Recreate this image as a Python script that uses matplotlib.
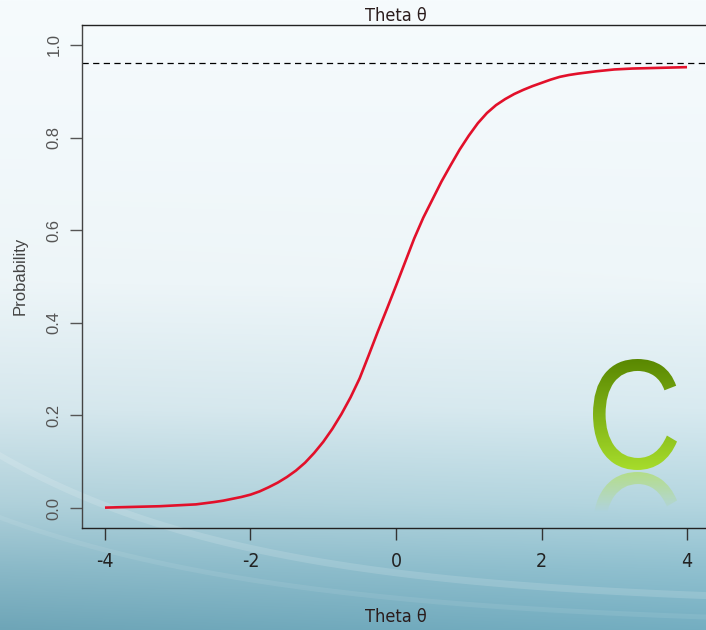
#!/usr/bin/env python3
"""Item characteristic curve on a slide-style background (probability vs theta)."""

import numpy as np
import matplotlib

matplotlib.use("Agg")
import matplotlib.pyplot as plt
from matplotlib.font_manager import FontProperties
from matplotlib.patches import PathPatch
from matplotlib.textpath import TextPath
from matplotlib.transforms import Affine2D

# values
theta = [-4.0, -3.75, -3.5, -3.25, -3.0, -2.75, -2.5, -2.375, -2.25, -2.125,
         -2.0, -1.875, -1.75, -1.625, -1.5, -1.375, -1.25, -1.125, -1.0, -0.875,
         -0.75, -0.625, -0.5, -0.375, -0.25, -0.125, 0.0, 0.125, 0.25, 0.375,
         0.5, 0.625, 0.75, 0.875, 1.0, 1.125, 1.25, 1.375, 1.5, 1.625,
         1.75, 1.875, 2.0, 2.125, 2.25, 2.375, 2.5, 2.75, 3.0, 3.25,
         3.5, 3.75, 4.0]
prob = [0.001, 0.002, 0.003, 0.004, 0.006, 0.008, 0.013, 0.016, 0.020, 0.024,
        0.029, 0.036, 0.045, 0.055, 0.067, 0.081, 0.098, 0.119, 0.143, 0.171,
        0.203, 0.239, 0.280, 0.330, 0.381, 0.430, 0.480, 0.531, 0.582, 0.627,
        0.666, 0.705, 0.740, 0.774, 0.804, 0.831, 0.853, 0.870, 0.883, 0.894,
        0.903, 0.911, 0.918, 0.925, 0.931, 0.935, 0.938, 0.943, 0.947, 0.949,
        0.950, 0.951, 0.952]
asymptote = 0.962
x_ticks = [-4, -2, 0, 2, 4]
y_ticks = [0.0, 0.2, 0.4, 0.6, 0.8, 1.0]
y_tick_labels = ["0.0", "0.2", "0.4", "0.6", "0.8", "1.0"]
title = "Theta θ"
x_label = "Theta θ"
y_label = "Probability"
badge = "C"

W, H = 706, 630
NARROW = ["Liberation Sans Narrow", "DejaVu Sans"]
SANS = ["Liberation Sans", "DejaVu Sans"]

fig = plt.figure(figsize=(W / 100, H / 100), dpi=100)

# --- background: vertical gradient plus soft swooshes -------------------------
bg = fig.add_axes([0, 0, 1, 1], zorder=0)
bg.axis("off")

stops = np.array([0.0, 0.45, 0.65, 0.8, 0.9, 1.0])
cols = np.array([
    [246, 251, 253],
    [238, 246, 249],
    [216, 234, 240],
    [180, 214, 224],
    [145, 193, 208],
    [116, 174, 193],
]) / 255.0
yy = np.linspace(0, 1, 400)
grad = np.stack([np.interp(yy, stops, cols[:, k]) for k in range(3)], axis=-1)
img = np.repeat(grad[:, None, :], 60, axis=1)
xx = np.linspace(0, 1, 60)
shade = 1 - 0.05 * (yy[:, None] ** 3) * (1 - xx[None, :])
img = np.clip(img * shade[..., None], 0, 1)
bg.imshow(img, extent=[0, W, H, 0], aspect="auto", interpolation="bilinear")

sx = np.linspace(0, W, 200)
band1 = 452 + 150 * (1 - np.exp(-sx / 260))
bg.fill_between(sx, band1, band1 + 7, color="white", alpha=0.14, lw=0)
band2 = 515 + 110 * (1 - np.exp(-sx / 300))
bg.fill_between(sx, band2, band2 + 5, color="white", alpha=0.08, lw=0)

# --- badge letter with gradient and reflection ---------------------------------
tp = TextPath((0, 0), badge, size=100, prop=FontProperties(family=SANS))
ext = tp.get_extents()
x0, x1, y0, y1 = 593, 677, 359, 470
tf = (Affine2D()
      .translate(-ext.x0, -ext.y1)
      .scale((x1 - x0) / ext.width, -(y1 - y0) / ext.height)
      .translate(x0, y0))
letter = tf.transform_path(tp)
patch = PathPatch(letter, fc="none", ec="none")
bg.add_patch(patch)
g_top = np.array([88, 134, 0]) / 255.0
g_bot = np.array([168, 222, 44]) / 255.0
t = np.linspace(0, 1, 200)[:, None]
gimg = (g_top * (1 - t) + g_bot * t)[:, None, :].repeat(2, axis=1)
im = bg.imshow(gimg, extent=[x0 - 5, x1 + 5, y1 + 2, y0 - 2], aspect="auto", zorder=2)
im.set_clip_path(patch)

mirror = 2 * y1 + 2
refl = Affine2D().scale(1, -1).translate(0, mirror).transform_path(letter)
rpatch = PathPatch(refl, fc="none", ec="none")
bg.add_patch(rpatch)
rt = np.linspace(0, 1, 200)[:, None]
rimg = np.zeros((200, 2, 4))
rimg[..., :3] = g_bot
rimg[..., 3] = 0.5 * np.clip(1 - rt / 0.36, 0, 1)
im2 = bg.imshow(rimg, extent=[x0 - 5, x1 + 5, mirror - y0, y1 + 2],
                aspect="auto", zorder=2)
im2.set_clip_path(rpatch)
bg.set_xlim(0, W)
bg.set_ylim(H, 0)

# --- main plot ----------------------------------------------------------------
left, right, top, bottom = 82, 706, 25, 528
ax = fig.add_axes([left / W, (H - bottom) / H, (right - left) / W, (bottom - top) / H],
                  zorder=1)
ax.patch.set_alpha(0)
ax.plot(theta, prob, color="#e2102a", lw=1.9, solid_capstyle="butt")
ax.axhline(asymptote, color="black", lw=0.9, ls=(0, (5, 3.5)))

ax.set_xlim(-4.316, 4.261)
ax.set_ylim(-0.043, 1.043)
ax.spines["right"].set_visible(False)
for s in ("left", "bottom", "top"):
    ax.spines[s].set_linewidth(1.0)
ax.spines["left"].set_color("#444444")
ax.spines["bottom"].set_color("#222222")
ax.spines["top"].set_color("#222222")

ax.set_xticks(x_ticks)
ax.set_xticklabels([str(v) for v in x_ticks], family=NARROW, stretch="condensed",
                   fontsize=14, color="#222222")
ax.set_yticks(y_ticks)
ax.set_yticklabels(y_tick_labels, family=SANS, fontsize=12, color="#555555",
                   rotation=90, va="center")
ax.tick_params(axis="x", length=8.5, width=1.0, color="#333333", pad=9)
ax.tick_params(axis="y", length=8.5, width=1.0, color="#555555", pad=6)

fig.text(396 / W, 1 - 16 / H, title, ha="center", va="center",
         family=NARROW, stretch="condensed", fontsize=13, color="#2a1c1c")
fig.text(396 / W, 1 - 617 / H, x_label, ha="center", va="center",
         family=NARROW, stretch="condensed", fontsize=13, color="#2a1c1c")
fig.text(20 / W, 1 - 276 / H, y_label, ha="center", va="center", rotation=90,
         family=SANS, fontsize=12, color="#444444")

fig.savefig("out.png", dpi=100)
